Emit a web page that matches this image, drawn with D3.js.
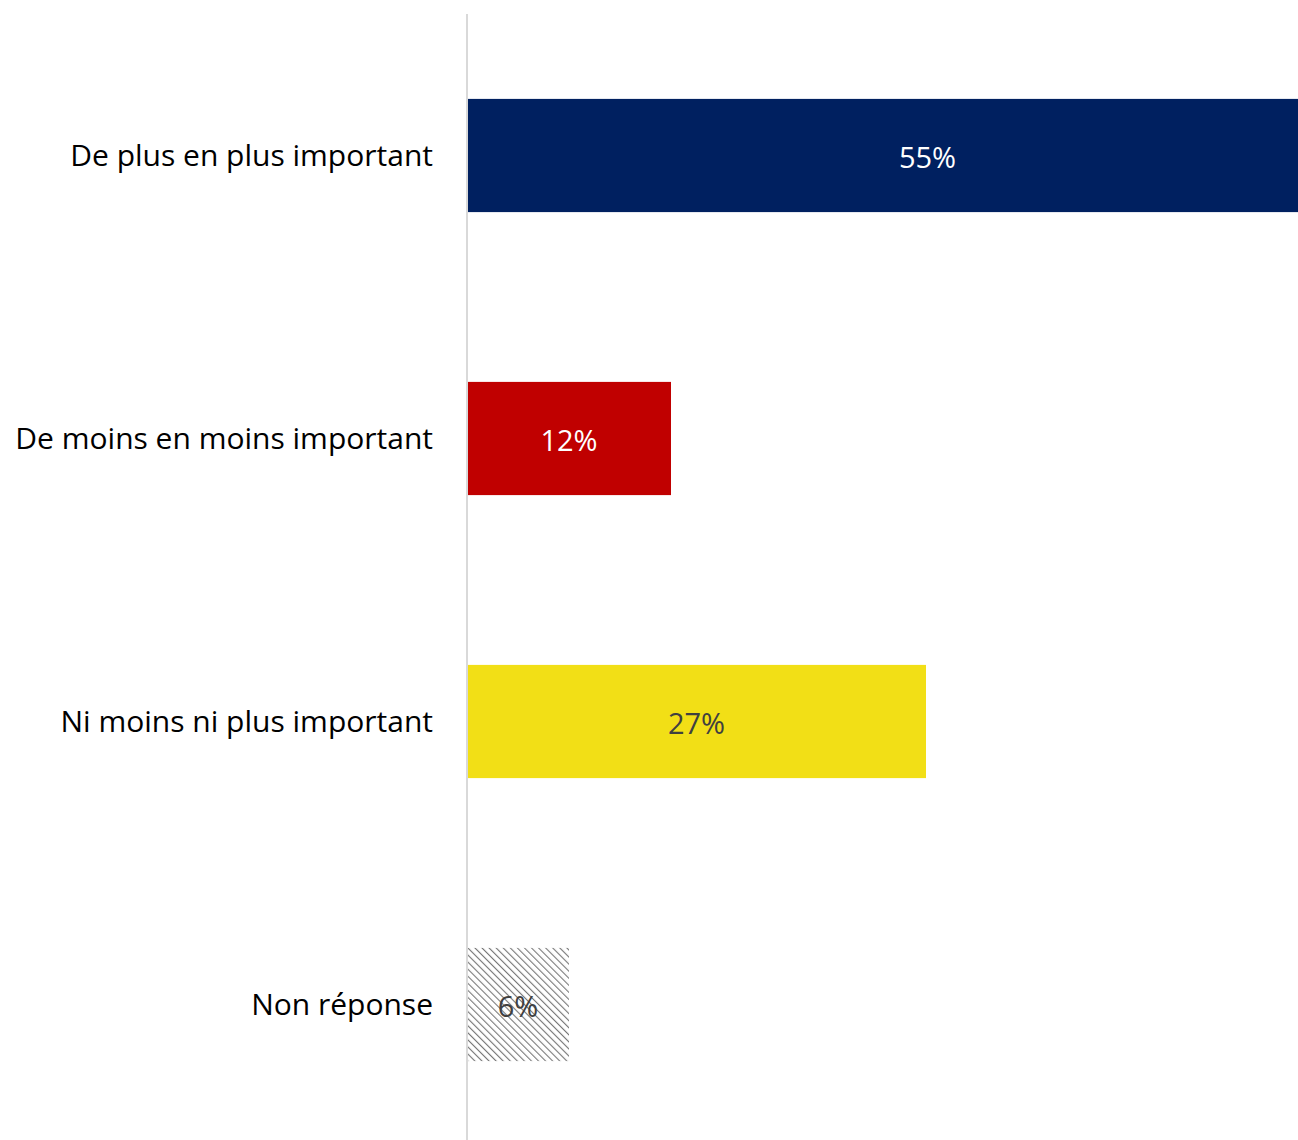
<!DOCTYPE html>
<html>
<head>
<meta charset="utf-8">
<script src="https://cdn.jsdelivr.net/npm/d3@7"></script>
<style>
  body { margin: 0; background: #fff; }
  svg { display: block; font-family: "Open Sans", Lato, sans-serif; }
</style>
</head>
<body>
<svg id="chart" width="1298" height="1140"></svg>
<script>
const categories = ["De plus en plus important", "De moins en moins important", "Ni moins ni plus important", "Non réponse"];
const values = [55, 12, 27, 6];
const barColors = ["#002060", "#C00000", "#F2DF16", "url(#hatch)"];
const labelColors = ["#ffffff", "#ffffff", "#404040", "#404040"];

const width = 1298, height = 1140;
const left = 467;

const svg = d3.select("#chart");

// hatch pattern for the "Non réponse" bar (lines going down to the right)
const defs = svg.append("defs");
const pat = defs.append("pattern")
    .attr("id", "hatch")
    .attr("patternUnits", "userSpaceOnUse")
    .attr("width", 5)
    .attr("height", 5)
    .attr("patternTransform", "rotate(-45)");
pat.append("rect").attr("width", 5).attr("height", 5).attr("fill", "#fff");
pat.append("line")
    .attr("x1", 0).attr("y1", 0).attr("x2", 0).attr("y2", 5)
    .attr("stroke", "#777").attr("stroke-width", 2.2);

defs.append("clipPath").attr("id", "plot")
    .append("rect").attr("x", left).attr("y", 0).attr("width", width - left).attr("height", height);

// 1% ≈ 17px, the top bar runs off the right edge
const x = d3.scaleLinear().domain([0, 55]).range([left, left + 17 * 55]);
const y = d3.scaleBand().domain(categories).range([14, 14 + 283 * 4]).paddingInner(0.6).paddingOuter(0.3);

const g = svg.append("g").attr("clip-path", "url(#plot)");

g.selectAll("rect.bar")
    .data(categories)
    .enter().append("rect")
    .attr("class", "bar")
    .attr("x", x(0))
    .attr("y", d => y(d))
    .attr("width", (d, i) => x(values[i]) - x(0))
    .attr("height", y.bandwidth())
    .attr("fill", (d, i) => barColors[i]);

g.selectAll("text.val")
    .data(categories)
    .enter().append("text")
    .attr("class", "val")
    .attr("x", (d, i) => (x(0) + x(values[i])) / 2 - (i === 0 ? 7 : 0))
    .attr("y", d => y(d) + y.bandwidth() / 2 + 2)
    .attr("dy", "0.35em")
    .attr("text-anchor", "middle")
    .attr("font-size", 29)
    .attr("fill", (d, i) => labelColors[i])
    .text((d, i) => values[i] + "%");

// category labels
svg.selectAll("text.cat")
    .data(categories)
    .enter().append("text")
    .attr("class", "cat")
    .attr("x", 433)
    .attr("y", d => y(d) + y.bandwidth() / 2)
    .attr("dy", "0.35em")
    .attr("text-anchor", "end")
    .attr("font-size", 30)
    .attr("fill", "#000")
    .text(d => d);

// vertical axis line
svg.append("line")
    .attr("x1", left).attr("x2", left)
    .attr("y1", 14).attr("y2", height)
    .attr("stroke", "#d9d9d9")
    .attr("stroke-width", 2);
</script>
</body>
</html>
